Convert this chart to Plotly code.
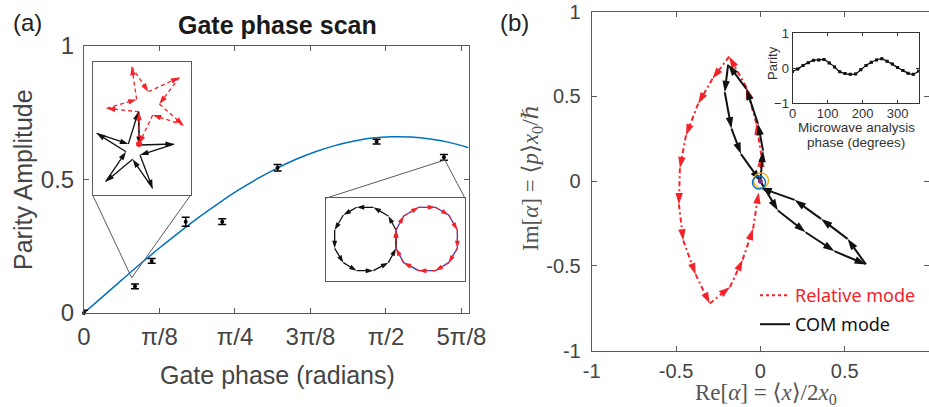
import math
import plotly.graph_objects as go

W, H = 929, 407

# ---------------- Panel (a): gate phase scan ----------------
gate_phase = [0.0, 0.265, 0.352, 0.529, 0.719, 1.007, 1.522, 1.872]
parity_amp = [0.0, 0.100, 0.195, 0.342, 0.342, 0.544, 0.642, 0.583]
parity_err = [0.010, 0.009, 0.009, 0.017, 0.011, 0.012, 0.009, 0.011]

fit_phase = [0.0, 0.1, 0.2, 0.3, 0.4, 0.5, 0.6, 0.7, 0.8, 0.9, 1.0,
             1.1, 1.2, 1.3, 1.4, 1.5, 1.6, 1.7, 1.8, 1.9, 2.0]
fit_amp = [0.0, 0.063, 0.126, 0.188, 0.248, 0.305, 0.360, 0.411, 0.459, 0.502, 0.541,
           0.575, 0.603, 0.626, 0.643, 0.655, 0.660, 0.659, 0.652, 0.639, 0.619]

a_xtick_vals = [0, math.pi / 8, math.pi / 4, 3 * math.pi / 8, math.pi / 2, 5 * math.pi / 8]
a_xtick_text = ["0", "π/8", "π/4", "3π/8", "π/2", "5π/8"]
a_ytick_vals = [0, 0.5, 1]
a_ytick_text = ["0", "0.5", "1"]

# star inset (schematic units)
star_black_x = [415, 418, 522, 420, 458, 398, 317, 378, 290, 385, 415]
star_black_y = [335, 435, 432, 465, 565, 478, 545, 455, 400, 432, 335]
star_red_x = [417, 417, 320, 410, 395, 445, 538, 478, 550, 458, 417]
star_red_y = [432, 335, 325, 298, 200, 275, 232, 312, 375, 345, 432]
star_link_x = [417, 417]
star_link_y = [432, 335]

# circles inset (schematic units)
circ_black_x = [258, 235, 190, 140, 100, 74, 74, 100, 140, 190, 235, 258, 258]
circ_black_y = [150, 108, 82, 82, 105, 150, 205, 248, 272, 272, 248, 205, 150]
circ_red_x = [258, 281, 326, 376, 416, 442, 442, 416, 376, 326, 281, 258, 258]
circ_red_y = [150, 108, 82, 82, 105, 150, 205, 248, 272, 272, 248, 205, 150]

# ---------------- Panel (b): phase space trajectories ----------------
com_x = [0.0, 0.016, -0.014, -0.083, -0.191, -0.211, -0.171, -0.115, 0.0,
         0.104, 0.268, 0.439, 0.626, 0.517, 0.360, 0.203, 0.0]
com_y = [0.0, 0.180, 0.339, 0.545, 0.688, 0.525, 0.310, 0.160, 0.0,
         -0.173, -0.301, -0.413, -0.491, -0.340, -0.222, -0.110, -0.039]
rel_x = [0.0, 0.006, -0.024, -0.083, -0.185, -0.284, -0.369, -0.441, -0.477, -0.483,
         -0.457, -0.384, -0.300, -0.180, -0.105, -0.043, -0.010]
rel_y = [0.0, 0.152, 0.342, 0.555, 0.735, 0.604, 0.457, 0.270, 0.076, -0.137,
         -0.350, -0.550, -0.722, -0.624, -0.463, -0.280, -0.066]
b_ticks = [-1, -0.5, 0, 0.5, 1]
b_ticktext = ["-1", "-0.5", "0", "0.5", "1"]

# inset of (b): parity vs microwave analysis phase
mw_phase = [0, 15, 30, 45, 60, 75, 90, 105, 120, 135, 150, 165, 180,
            195, 210, 225, 240, 255, 270, 285, 300, 315, 330, 345, 360]
mw_parity = [-0.09, -0.02, 0.08, 0.16, 0.23, 0.24, 0.25, 0.15, 0.04, -0.10, -0.15, -0.17, -0.16,
             -0.04, 0.08, 0.17, 0.24, 0.27, 0.20, 0.12, 0.02, -0.06, -0.14, -0.17, -0.08]
mw_err = [0.02] * len(mw_phase)
mw_xticks = [0, 100, 200, 300]
mw_yticks = [-1, 0, 1]

# ---------------- layout geometry ----------------
AX = [84 / W, 468.5 / W]
AY = [1 - 313 / H, 1 - 46 / H]
A_XR = [0, 2.0]
A_YR = [0, 1]


def ax2p(x):
    return AX[0] + (x - A_XR[0]) / (A_XR[1] - A_XR[0]) * (AX[1] - AX[0])


def ay2p(y):
    return AY[0] + (y - A_YR[0]) / (A_YR[1] - A_YR[0]) * (AY[1] - AY[0])


star_box = dict(x0=0.045, x1=0.555, y0=0.442, y1=0.941)
star_apex = (0.248, 0.132)
circ_box = dict(x0=1.257, x1=1.982, y0=0.121, y1=0.4296)
circ_apex = (1.877, 0.573)

BX = [591.7 / W, 1.0]
BY = [1 - 350.7 / H, 1 - 11.7 / H]
IX = [792.5 / W, 918.6 / W]
IY = [1 - 103.3 / H, 1 - 33.3 / H]

RED = "#f5222a"
BLUE = "#0072BD"
TXT = "#444444"
AXC = "#5a5a5a"
SANS = "Liberation Sans, Arial, sans-serif"
SERIF = "Liberation Serif, DejaVu Serif, serif"


def arrow_trace(xs, ys, color, width, dash, size, xa, ya):
    sizes = [0] + [size] * (len(xs) - 1)
    return go.Scatter(
        x=xs, y=ys, mode="lines+markers", xaxis=xa, yaxis=ya,
        line=dict(color=color, width=width, dash=dash),
        marker=dict(symbol="arrow", angleref="previous", size=sizes, color=color,
                    line=dict(width=0), opacity=1),
        showlegend=False, hoverinfo="skip")


fig = go.Figure()

# Panel (a)
fig.add_trace(go.Scatter(x=fit_phase, y=fit_amp, mode="lines", line=dict(color=BLUE, width=1.5, shape="spline"),
                         xaxis="x", yaxis="y", showlegend=False, hoverinfo="skip"))
fig.add_trace(go.Scatter(x=gate_phase, y=parity_amp, mode="markers",
                         marker=dict(color="black", size=4),
                         error_y=dict(type="data", array=parity_err, color="black", thickness=1.5, width=4),
                         xaxis="x", yaxis="y", showlegend=False, cliponaxis=False))

# star inset
fig.add_trace(go.Scatter(x=star_link_x, y=star_link_y, mode="lines", line=dict(color="#3040c0", width=1.2),
                         xaxis="x2", yaxis="y2", showlegend=False, hoverinfo="skip"))
fig.add_trace(arrow_trace(star_black_x, star_black_y, "#111111", 1.3, "solid", 9, "x2", "y2"))
fig.add_trace(arrow_trace(star_red_x, star_red_y, RED, 1.3, "4px,3px", 9, "x2", "y2"))
fig.add_trace(go.Scatter(x=[star_link_x[0]], y=[star_link_y[0]], mode="markers",
                         marker=dict(color=RED, size=6), xaxis="x2", yaxis="y2", showlegend=False))

# circles inset
fig.add_trace(go.Scatter(x=circ_red_x, y=circ_red_y, mode="lines", line=dict(color="#3040c0", width=1.3),
                         xaxis="x3", yaxis="y3", showlegend=False, hoverinfo="skip"))
fig.add_trace(arrow_trace(circ_black_x, circ_black_y, "#111111", 1.3, "solid", 8, "x3", "y3"))
fig.add_trace(arrow_trace(circ_red_x, circ_red_y, RED, 1.3, "4px,3px", 8, "x3", "y3"))

# Panel (b)
fig.add_trace(arrow_trace(rel_x, rel_y, RED, 2, "5px,3px,2px,3px", 12, "x4", "y4"))
fig.add_trace(arrow_trace(com_x, com_y, "#111111", 2, "solid", 12, "x4", "y4"))
fig.add_trace(go.Scatter(x=[0.004], y=[0.004], mode="markers", xaxis="x4", yaxis="y4", showlegend=False,
                         marker=dict(symbol="circle-open", size=15, color="#EDB120", line=dict(width=1.5))))
fig.add_trace(go.Scatter(x=[-0.008], y=[-0.008], mode="markers", xaxis="x4", yaxis="y4", showlegend=False,
                         marker=dict(symbol="circle-open", size=13, color=BLUE, line=dict(width=1.5))))
fig.add_trace(go.Scatter(x=[0.0], y=[0.0], mode="markers", xaxis="x4", yaxis="y4", showlegend=False,
                         marker=dict(size=5, color="#7E2F8E")))

# legend entries
fig.add_trace(go.Scatter(x=[None], y=[None], mode="lines", name="Relative mode", legend="legend",
                         line=dict(color=RED, width=2, dash="3px,3px"), xaxis="x4", yaxis="y4"))
fig.add_trace(go.Scatter(x=[None], y=[None], mode="lines", name="COM mode", legend="legend2",
                         line=dict(color="#111111", width=2), xaxis="x4", yaxis="y4"))

# inset (b)
fig.add_trace(go.Scatter(x=mw_phase, y=mw_parity, mode="lines+markers", xaxis="x5", yaxis="y5",
                         line=dict(color="#111111", width=1.3, shape="spline"),
                         marker=dict(symbol="square", size=3, color="#111111"),
                         error_y=dict(type="data", array=mw_err, color="#111111", thickness=0.8, width=1.5),
                         showlegend=False, hoverinfo="skip"))


def main_axis(domain, rng, tickvals, ticktext, size, anchor, standoff=None):
    d = dict(domain=domain, range=rng, tickvals=tickvals, ticktext=ticktext, ticks="inside", ticklen=5,
             tickcolor=AXC, showline=True, linecolor=AXC, linewidth=1, mirror="ticks",
             showgrid=False, zeroline=False, anchor=anchor, automargin=False,
             tickfont=dict(family=SANS, size=size, color=TXT), fixedrange=True)
    if standoff is not None:
        d["ticklabelstandoff"] = standoff
    return d


def inset_axis(domain, rng, anchor):
    return dict(domain=domain, range=rng, showticklabels=False, ticks="", showline=True, linecolor=AXC,
                linewidth=1, mirror=True, showgrid=False, zeroline=False, anchor=anchor, fixedrange=True,
                automargin=False)


def small_axis(domain, rng, tickvals, anchor, standoff):
    return dict(domain=domain, range=rng, tickvals=tickvals, ticks="inside", ticklen=3,
                tickcolor="#333", showline=True, linecolor="#333", mirror="ticks", showgrid=False,
                zeroline=False, anchor=anchor, automargin=False, ticklabelstandoff=standoff,
                tickfont=dict(family=SANS, size=13, color="#333"), fixedrange=True)


layout = dict(
    width=W, height=H, autosize=False,
    margin=dict(l=0, r=0, t=0, b=0, pad=0, autoexpand=False),
    paper_bgcolor="white", plot_bgcolor="white",
    xaxis=main_axis(AX, A_XR, a_xtick_vals, a_xtick_text, 24, "y", 2),
    yaxis=main_axis(AY, A_YR, a_ytick_vals, a_ytick_text, 24, "x", 4),
    xaxis2=inset_axis([ax2p(star_box["x0"]), ax2p(star_box["x1"])], [278, 572], "y2"),
    yaxis2=inset_axis([ay2p(star_box["y0"]), ay2p(star_box["y1"])], [585, 185], "x2"),
    xaxis3=inset_axis([ax2p(circ_box["x0"]), ax2p(circ_box["x1"])], [47, 465], "y3"),
    yaxis3=inset_axis([ay2p(circ_box["y0"]), ay2p(circ_box["y1"])], [302, 55], "x3"),
    xaxis4=main_axis(BX, [-1, 1], b_ticks, b_ticktext, 20, "y4", 2),
    yaxis4=main_axis(BY, [-1, 1], b_ticks, b_ticktext, 20, "x4", 6),
    xaxis5=small_axis(IX, [0, 360], mw_xticks, "y5", -2),
    yaxis5=small_axis(IY, [-1, 1], mw_yticks, "x5", 0),
    legend=dict(x=755 / W, y=1 - 277 / H, xanchor="left", yanchor="top", bgcolor="rgba(0,0,0,0)",
                font=dict(family="Noto Sans, Open Sans, sans-serif", size=18, color=RED), itemwidth=30),
    legend2=dict(x=755 / W, y=1 - 306 / H, xanchor="left", yanchor="top", bgcolor="rgba(0,0,0,0)",
                 font=dict(family="Noto Sans, Open Sans, sans-serif", size=18, color="#111111"), itemwidth=30),
    showlegend=True,
)

shapes = [
    dict(type="line", xref="x", yref="y", x0=star_box["x0"], y0=star_box["y0"], x1=star_apex[0], y1=star_apex[1],
         line=dict(color=AXC, width=1)),
    dict(type="line", xref="x", yref="y", x0=star_box["x1"], y0=star_box["y0"], x1=star_apex[0], y1=star_apex[1],
         line=dict(color=AXC, width=1)),
    dict(type="line", xref="x", yref="y", x0=circ_box["x0"], y0=circ_box["y1"], x1=circ_apex[0], y1=circ_apex[1],
         line=dict(color=AXC, width=1)),
    dict(type="line", xref="x", yref="y", x0=circ_box["x1"], y0=circ_box["y1"], x1=circ_apex[0], y1=circ_apex[1],
         line=dict(color=AXC, width=1)),
    dict(type="rect", xref="x5 domain", yref="y5 domain", x0=0, x1=1, y0=0, y1=1, layer="below",
         fillcolor="#f7f7f7", line=dict(width=0)),
]
layout["shapes"] = shapes


def ann(text, x, y, size, color=TXT, family=SANS, angle=0, xanchor="center", yanchor="middle"):
    return dict(text=text, x=x / W, y=1 - y / H, xref="paper", yref="paper", showarrow=False,
                font=dict(family=family, size=size, color=color), textangle=angle,
                xanchor=xanchor, yanchor=yanchor)


annotations = [
    ann("(a)", 11, 22, 24, color="#222", xanchor="left"),
    ann("<b>Gate phase scan</b>", 277, 25, 25, color="#1a1a1a"),
    ann("Parity Amplitude", 23, 180, 25, angle=-90),
    ann("Gate phase (radians)", 277, 375, 25),
    ann("(b)", 498, 23, 24, color="#222", xanchor="left"),
    ann("Im[<i>α</i>] = ⟨<i>p</i>⟩<i>x</i><sub>0</sub>/ℏ", 532, 178, 23, family=SERIF, angle=-90, color="#555"),
    ann("Re[<i>α</i>] = ⟨<i>x</i>⟩/2<i>x</i><sub>0</sub>", 766, 394, 23, family=SERIF, color="#555"),
    ann("Parity", 772, 63, 13, color="#333", angle=-90),
    ann("Microwave analysis", 856, 127, 13.5, color="#333"),
    ann("phase (degrees)", 856, 143, 13.5, color="#333"),
]
layout["annotations"] = annotations

fig.update_layout(**layout)
fig.write_html("out.html", config={"displayModeBar": False},
               post_script="document.documentElement.style.margin='0';document.body.style.margin='0';"
                           "document.body.style.overflow='hidden';")
